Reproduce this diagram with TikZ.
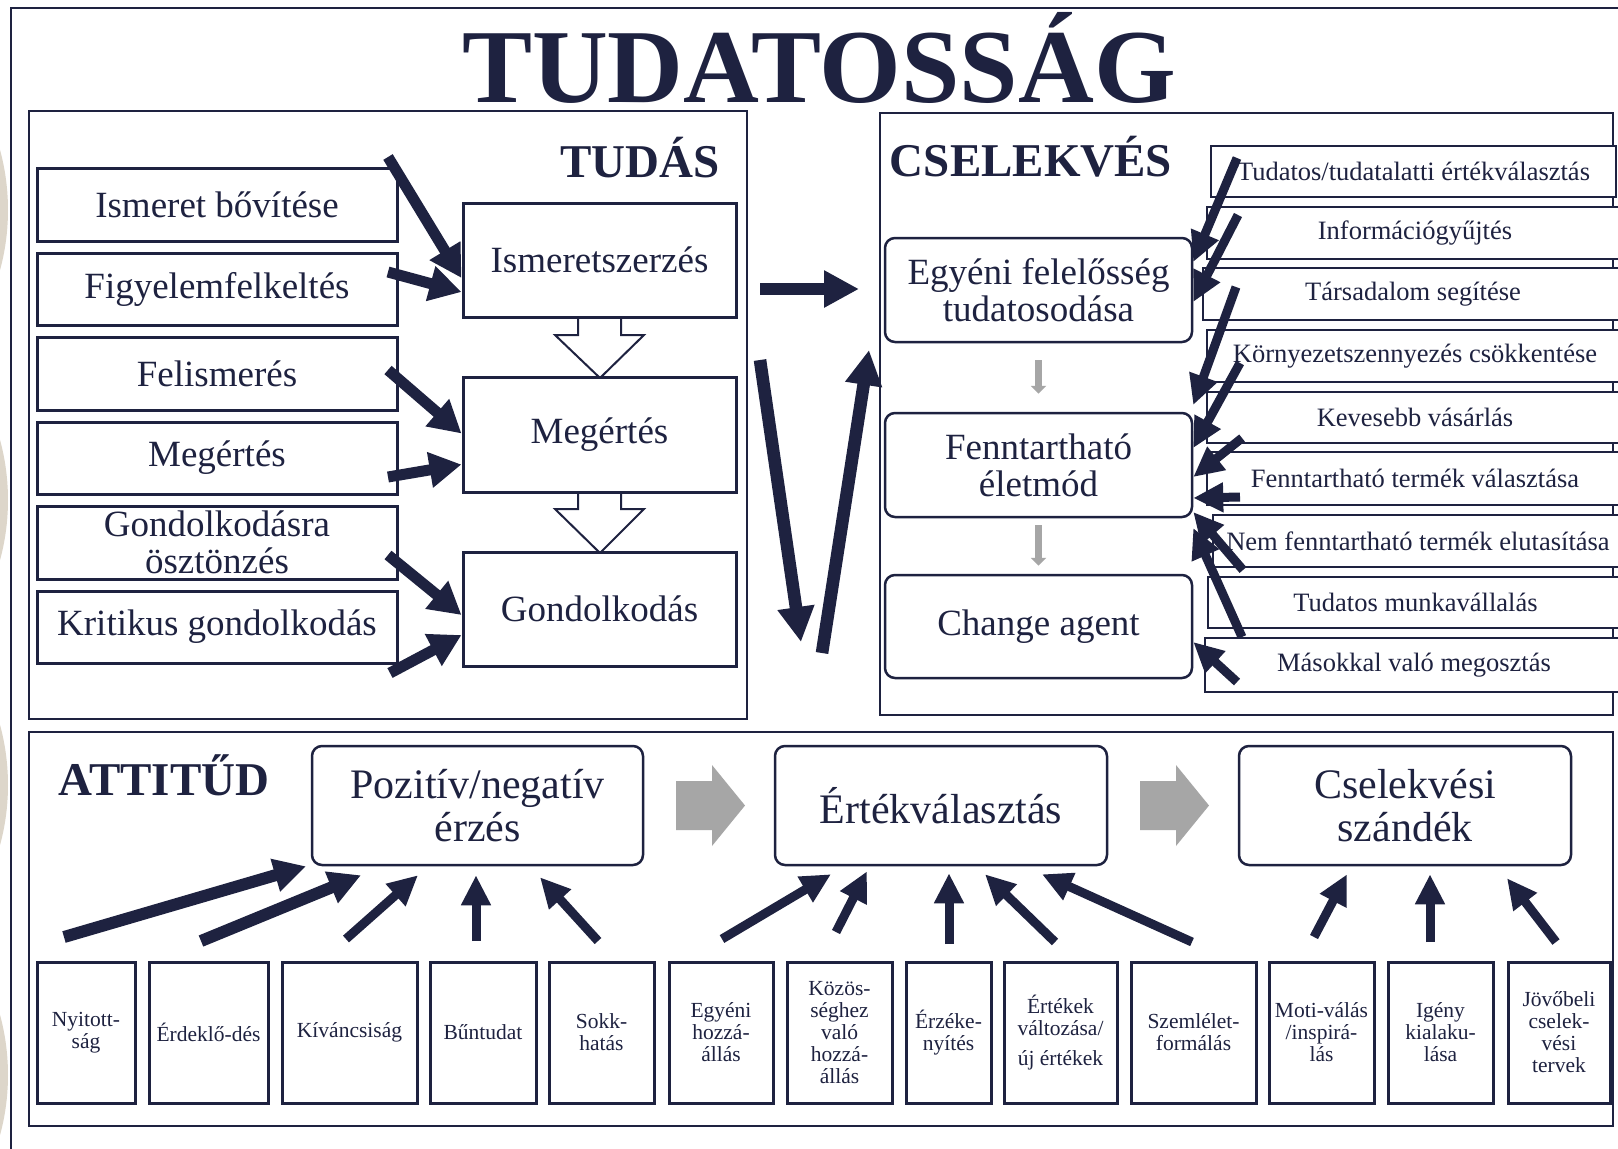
\documentclass[tikz,border=0pt]{standalone}
\usepackage{fontspec}
\setmainfont{Liberation Serif}
\usetikzlibrary{arrows.meta}
\definecolor{navy}{HTML}{1E2240}
\definecolor{grayarr}{HTML}{A6A6A6}
\definecolor{beige}{HTML}{DDD6CA}
\newcommand{\fsz}[2]{\fontsize{#1}{#2}\selectfont}
% \placebox{style}{name}{x1}{y1}{x2}{y2}{text}  (coordinates in pixels)
\newcommand{\placebox}[7]{%
  \pgfmathsetmacro\pbw{abs(#5-#3)/2}%
  \pgfmathsetmacro\pbh{abs(#6-#4)/2}%
  \pgfmathsetmacro\pbx{(#3+#5)/2}%
  \pgfmathsetmacro\pby{(#4+#6)/2}%
  \node[#1,minimum width=\pbw pt,minimum height=\pbh pt] (#2) at (\pbx,\pby) {#7};}
\begin{document}
\begin{tikzpicture}[x=0.5pt,y=-0.5pt,
  every node/.style={text=navy},
  sqbox/.style={draw=navy,line width=1.5pt,fill=white,inner sep=0pt,align=center},
  itembox/.style={sqbox,line width=1.3pt,font=\fsz{13.25}{14}},
  lbox/.style={sqbox,font=\fsz{18.5}{18.5}},
  rbox/.style={sqbox,rounded corners=5pt,line width=1.25pt},
  bbox/.style={sqbox,font=\fsz{10.75}{11}},
  frame/.style={draw=navy,line width=1pt,inner sep=0pt},
  seclabel/.style={font=\fsz{23.5}{24}\bfseries,anchor=base},
  bigarr/.style={draw=navy,line width=6.3pt,-{Triangle[length=17.5pt,width=17.5pt]}},
  midarr/.style={draw=navy,line width=5.5pt,-{Triangle[length=16pt,width=17pt]}},
  smarr/.style={draw=navy,line width=4.5pt,-{Triangle[length=15pt,width=14pt]}},
  attarr/.style={draw=navy,line width=4.5pt,-{Triangle[length=15pt,width=14pt]}},
  attarrw/.style={draw=navy,line width=6pt,-{Triangle[length=16pt,width=16pt]}},
  grarr/.style={draw=grayarr,line width=3.5pt,-{Triangle[length=4pt,width=7.5pt]}},
  hollow/.style={draw=navy,line width=1pt,fill=white},
  block/.style={fill=grayarr}
]
\useasboundingbox (0,0) rectangle (1618,1148);
\fill[white] (0,0) rectangle (1618,1148);
% decorative circles at the left edge
\fill[beige] (-221,210) circle[radius=114.5pt];
\fill[beige] (-221,500) circle[radius=114.5pt];
\fill[beige] (-221,785) circle[radius=114.5pt];
\fill[beige] (-221,1075) circle[radius=114.5pt];
% outer frame
\draw[frame] (11,8) rectangle (1650,1180);
% title
\node[font=\fsz{52.5}{53}\bfseries,anchor=base] (title) at (819,102) {TUDATOSSÁG};

% ================= TUDÁS =================
\placebox{frame,fill=white}{tudasbox}{29}{111}{747}{719}{}
\node[seclabel] (tudas) at (640,177) {TUDÁS};
\placebox{lbox}{lb1}{37}{168}{397}{241}{Ismeret bővítése}
\placebox{lbox}{lb2}{37}{253}{397}{325}{Figyelemfelkeltés}
\placebox{lbox}{lb3}{37}{337}{397}{410}{Felismerés}
\placebox{lbox}{lb4}{37}{422}{397}{494}{Megértés}
\placebox{lbox}{lb5}{37}{506}{397}{579}{Gondolkodásra\\ösztönzés}
\placebox{lbox}{lb6}{37}{591}{397}{663}{Kritikus gondolkodás}
% hollow down arrows
\draw[hollow] (578,317) -- (578,335) -- (555,335) -- (600,378) -- (644,335) -- (621,335) -- (621,317);
\draw[hollow] (578,492) -- (578,509) -- (555,509) -- (600,553) -- (644,509) -- (621,509) -- (621,492);
\placebox{lbox}{cb1}{463}{203}{736}{317}{Ismeretszerzés}
\placebox{lbox}{cb2}{463}{377}{736}{492}{Megértés}
\placebox{lbox}{cb3}{463}{552}{736}{666}{Gondolkodás}
\coordinate (ta1) at (388,157);
\coordinate (ta2) at (388,272);
\coordinate (ta3) at (388,370);
\coordinate (ta4) at (388,477);
\coordinate (ta5) at (388,555);
\coordinate (ta6) at (390,673);
\draw[midarr] (ta1) -- ([yshift=-9pt]cb1.west);
\draw[midarr] (ta2) -- ([yshift=-16pt]cb1.west);
\draw[midarr] (ta3) -- ([yshift=0.5pt]cb2.west);
\draw[midarr] (ta4) -- ([yshift=-15pt]cb2.west);
\draw[midarr] (ta5) -- ([yshift=-3pt]cb3.west);
\draw[midarr] (ta6) -- ([yshift=-13pt]cb3.west);

% ================= CSELEKVÉS =================
\placebox{frame}{cselbox}{880}{113}{1613}{715}{}
\node[seclabel] (csel) at (1031,176) {CSELEKVÉS};
\placebox{rbox,font=\fsz{18.5}{18.5}}{eg}{885}{238}{1192}{342}{Egyéni felelősség\\tudatosodása}
\placebox{rbox,font=\fsz{18.5}{18.5}}{fe}{885}{413}{1192}{517}{Fenntartható\\életmód}
\placebox{rbox,font=\fsz{18.5}{18.5}}{ch}{885}{575}{1192}{678}{Change agent}
\draw[grarr] ([yshift=-8.5pt]eg.south) -- ([yshift=9pt]fe.north);
\draw[grarr] ([yshift=-3.5pt]fe.south) -- ([yshift=4pt]ch.north);
% list of actions
\placebox{itembox}{i1}{1211}{146}{1616}{197}{Tudatos/tudatalatti értékválasztás}
\placebox{itembox}{i2}{1207}{207}{1623}{259}{Információgyűjtés}
\placebox{itembox}{i3}{1203}{268}{1623}{320}{Társadalom segítése}
\placebox{itembox}{i4}{1207}{330}{1623}{382}{Környezetszennyezés csökkentése}
\placebox{itembox}{i5}{1207}{392}{1623}{443}{Kevesebb vásárlás}
\placebox{itembox}{i6}{1207}{452}{1623}{505}{Fenntartható termék választása}
\placebox{itembox}{i7}{1213}{515}{1623}{567}{Nem fenntartható termék elutasítása}
\placebox{itembox}{i8}{1208}{577}{1623}{628}{Tudatos munkavállalás}
\placebox{itembox}{i9}{1205}{638}{1623}{692}{Másokkal való megosztás}
\coordinate (tc1) at (1237,158);
\coordinate (tc2) at (1238,215);
\coordinate (tc3) at (1236,287);
\coordinate (tc4) at (1240,363);
\coordinate (tc5) at (1242,438);
\coordinate (tc6) at (1240,497);
\coordinate (tc7) at (1243,570);
\coordinate (tc8) at (1242,637);
\coordinate (tc9) at (1237,682);
\draw[smarr] (tc1) -- ([yshift=14pt]eg.east);
\draw[smarr] (tc2) -- ([yshift=-6pt]eg.east);
\draw[smarr] (tc3) -- ([yshift=30pt]fe.east);
\draw[smarr] (tc4) -- ([yshift=8.5pt]fe.east);
\draw[smarr] (tc5) -- ([yshift=-6pt]fe.east);
\draw[smarr] (tc6) -- ([yshift=-16.5pt]fe.east);
\draw[smarr] (tc7) -- ([yshift=-23.5pt]fe.east);
\draw[smarr] (tc8) -- ([yshift=-31.5pt]fe.east);
\draw[smarr] (tc9) -- ([yshift=-7.75pt]ch.east);

% arrows between TUDÁS and CSELEKVÉS
\coordinate (h1) at (760,289);
\coordinate (h2) at (859,289);
\coordinate (d1) at (760,360);
\coordinate (d2) at (801,642);
\coordinate (u1) at (822,653);
\coordinate (u2) at (869,350);
\draw[bigarr] (h1) -- (h2);
\draw[bigarr] (d1) -- (d2);
\draw[bigarr] (u1) -- (u2);

% ================= ATTITŰD =================
\placebox{frame}{attbox}{29}{732}{1613}{1126}{}
\node[seclabel] (att) at (164,795) {ATTITŰD};
\placebox{rbox,font=\fsz{21}{21.5}}{p1}{312}{746}{643}{865}{Pozitív/negatív\\érzés}
\placebox{rbox,font=\fsz{21}{21.5}}{p2}{775}{746}{1107}{865}{Értékválasztás}
\placebox{rbox,font=\fsz{21}{21.5}}{p3}{1239}{746}{1571}{865}{Cselekvési\\szándék}
\fill[block] (676,781) -- (712,781) -- (712,765) -- (745,805.5) -- (712,846) -- (712,830) -- (676,830) -- cycle;
\fill[block] (1140,781) -- (1176,781) -- (1176,765) -- (1209,805.5) -- (1176,846) -- (1176,830) -- (1140,830) -- cycle;

\placebox{bbox}{b1}{37}{962}{135}{1103}{Nyitott-\\ság}
\placebox{bbox}{b2}{149}{962}{268}{1103}{Érdeklő-dés}
\placebox{bbox}{b3}{282}{962}{417}{1103}{Kíváncsiság}
\placebox{bbox}{b4}{430}{962}{536}{1103}{Bűntudat}
\placebox{bbox}{b5}{549}{962}{654}{1103}{Sokk-\\hatás}
\placebox{bbox}{b6}{669}{962}{773}{1103}{Egyéni\\hozzá-\\állás}
\placebox{bbox}{b7}{787}{962}{892}{1103}{Közös-\\séghez\\való\\hozzá-\\állás}
\placebox{bbox}{b8}{906}{962}{991}{1103}{Érzéke-\\nyítés}
\placebox{bbox}{b9}{1004}{962}{1117}{1103}{Értékek\\változása/\\[4pt]új értékek}
\placebox{bbox}{b10}{1131}{962}{1256}{1103}{Szemlélet-\\formálás}
\placebox{bbox}{b11}{1269}{962}{1374}{1103}{Moti-válás\\/inspirá-\\lás}
\placebox{bbox}{b12}{1388}{962}{1493}{1103}{Igény\\kialaku-\\lása}
\placebox{bbox}{b13}{1508}{962}{1610}{1103}{Jövőbeli\\cselek-\\vési\\tervek}

\coordinate (s1) at (64,937);
\coordinate (s2) at (201,941);
\coordinate (s3) at (346,939);
\coordinate (s4) at (476,941);
\coordinate (s5) at (598,941);
\coordinate (s6) at (722,939);
\coordinate (s7) at (836,932);
\coordinate (s8) at (949,944);
\coordinate (s9) at (1055,942);
\coordinate (s10) at (1192,942);
\coordinate (s11) at (1314,937);
\coordinate (s12) at (1430,942);
\coordinate (s13) at (1556,942);
\draw[attarrw] (s1) -- ([xshift=-85.75pt]p1.south);
\draw[attarrw] (s2) -- ([xshift=-58.25pt,yshift=-4.5pt]p1.south);
\draw[attarr] (s3) -- ([xshift=-29.75pt,yshift=-4.5pt]p1.south);
\draw[attarr] (s4) -- ([xshift=-0.75pt,yshift=-4.5pt]p1.south);
\draw[attarr] (s5) -- ([xshift=31.25pt,yshift=-5.5pt]p1.south);
\draw[attarr] (s6) -- ([xshift=-55pt,yshift=-4pt]p2.south);
\draw[attarr] (s7) -- ([xshift=-37pt,yshift=-2.5pt]p2.south);
\draw[attarr] (s8) -- ([xshift=4pt,yshift=-3.5pt]p2.south);
\draw[attarr] (s9) -- ([xshift=22pt,yshift=-4pt]p2.south);
\draw[attarr] (s10) -- ([xshift=50.5pt,yshift=-4pt]p2.south);
\draw[attarr] (s11) -- ([xshift=-29pt,yshift=-4pt]p3.south);
\draw[attarr] (s12) -- ([xshift=12.5pt,yshift=-4pt]p3.south);
\draw[attarr] (s13) -- ([xshift=51pt,yshift=-6pt]p3.south);
\end{tikzpicture}
\end{document}
